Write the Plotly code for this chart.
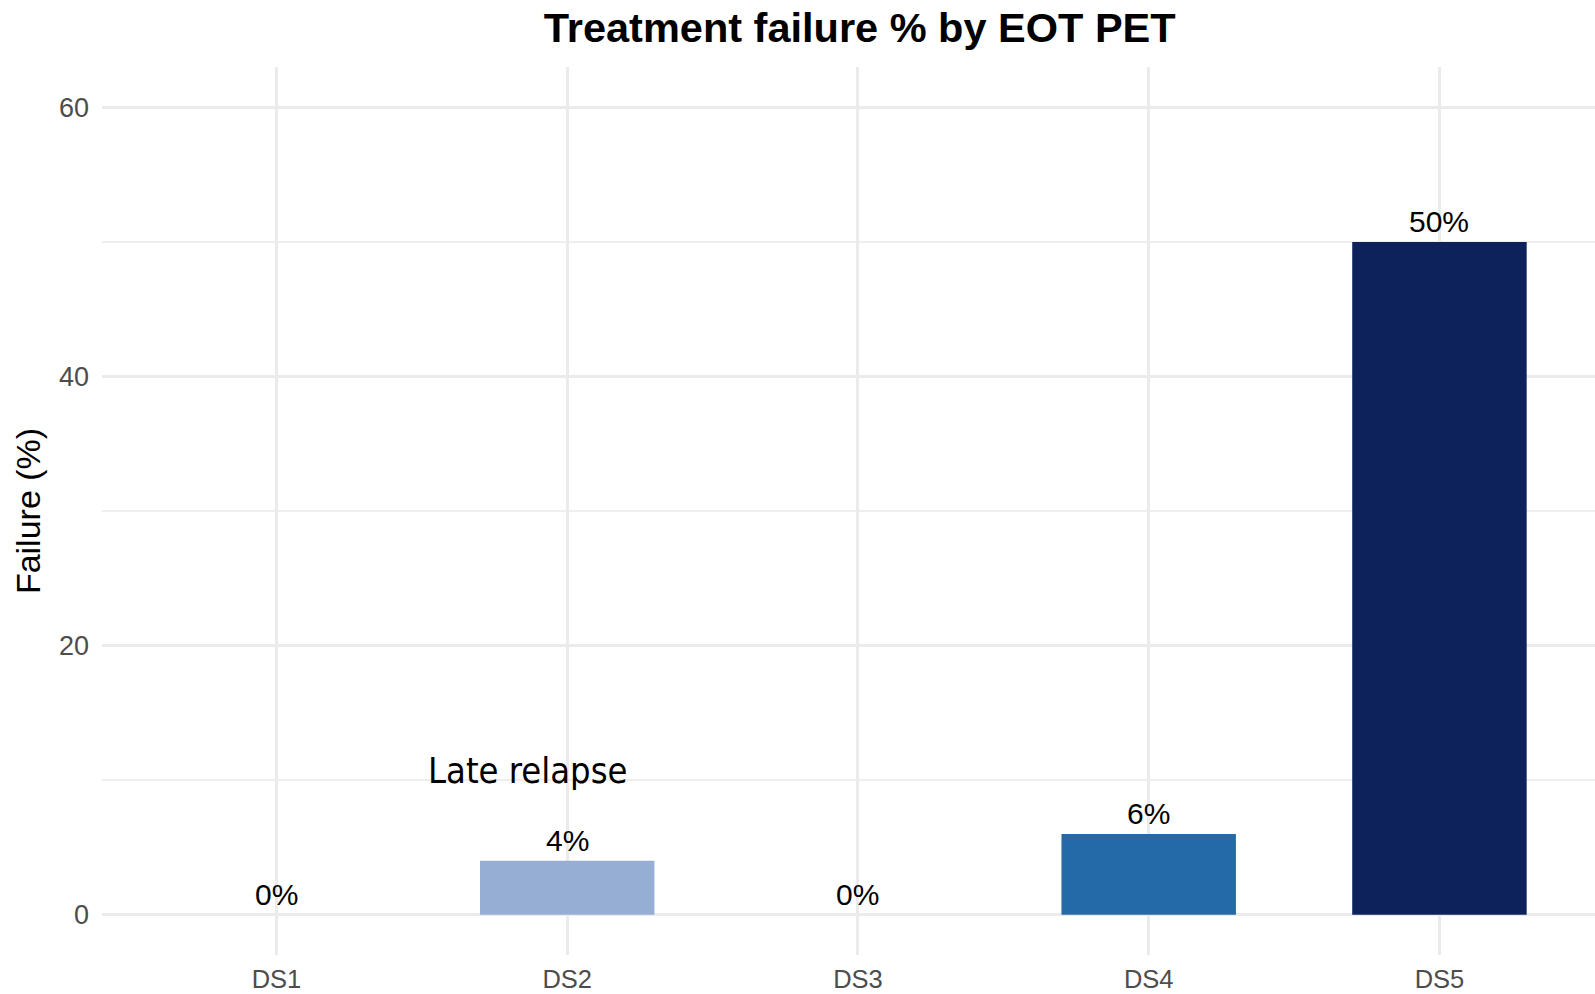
import plotly.graph_objects as go

categories = ["DS1", "DS2", "DS3", "DS4", "DS5"]
failure_pct = [0, 4, 0, 6, 50]
bar_labels = ["0%", "4%", "0%", "6%", "50%"]
bar_colors = ["#F7FBFF", "#97AED4", "#C6DBEF", "#246AA8", "#0D225A"]
y_ticks = [0, 20, 40, 60]
note_text = "Late relapse"
note_x = 0.865
note_y = 10.7

FONT = "Liberation Sans"

fig = go.Figure()
fig.add_trace(go.Bar(
    x=categories, y=failure_pct, width=0.6,
    marker=dict(color=bar_colors, line=dict(width=0)),
    hoverinfo="skip", showlegend=False,
))

for c, v, t in zip(categories, failure_pct, bar_labels):
    fig.add_annotation(x=c, y=v, text=t, showarrow=False, yanchor="middle",
                       yshift=20, font=dict(family=FONT, size=30, color="black"))

fig.add_annotation(x=note_x, y=note_y, text=note_text, showarrow=False,
                   xanchor="center", yanchor="middle",
                   font=dict(family="DejaVu Sans Condensed, DejaVu Sans", size=36, color="black"))

fig.update_layout(
    width=1595, height=994,
    margin=dict(l=102, r=0, t=66.5, b=38.7, autoexpand=False),
    paper_bgcolor="white", plot_bgcolor="white",
    title=dict(text="<b>Treatment failure % by EOT PET</b>", x=0.539, xref="container",
               xanchor="center", y=1 - 27.5 / 994, yref="container", yanchor="middle",
               font=dict(family=FONT, size=41.5, color="black")),
    xaxis=dict(type="category", range=[-0.6, 4.535], showgrid=True, gridcolor="#EBEBEB",
               gridwidth=3, zeroline=False, showline=False, ticks="", automargin=False,
               tickfont=dict(family=FONT, size=25.5, color="#4D4D4D"), ticklabelstandoff=6),
    yaxis=dict(range=[-3, 63], tickvals=y_ticks, showgrid=True, gridcolor="#EBEBEB",
               gridwidth=3, zeroline=False, showline=False, ticks="", automargin=False,
               tickfont=dict(family=FONT, size=27, color="#4D4D4D"), ticklabelstandoff=12,
               minor=dict(tickvals=[10, 30, 50], showgrid=True, gridcolor="#EEEEEE", gridwidth=1.5),
               title=dict(text="Failure (%)", standoff=8,
                          font=dict(family=FONT, size=34, color="black"))),
)

fig.write_html("out.html")
